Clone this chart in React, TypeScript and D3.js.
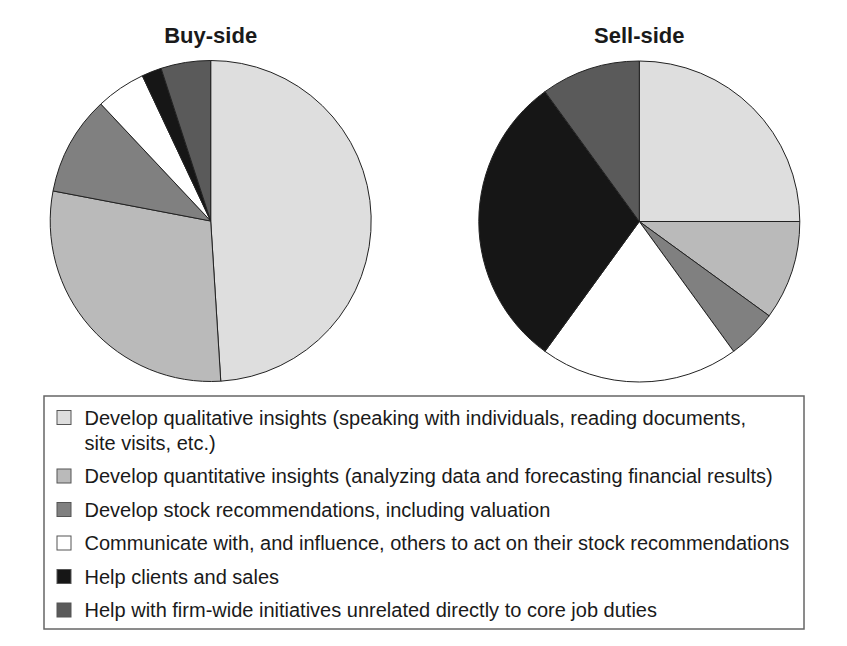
import React from "react";
import * as d3 from "d3";

const categories: string[][] = [
  ["Develop qualitative insights (speaking with individuals, reading documents,", "site visits, etc.)"],
  ["Develop quantitative insights (analyzing data and forecasting financial results)"],
  ["Develop stock recommendations, including valuation"],
  ["Communicate with, and influence, others to act on their stock recommendations"],
  ["Help clients and sales"],
  ["Help with firm-wide initiatives unrelated directly to core job duties"],
];
const buySide: number[] = [49, 29, 10, 5, 2, 5];
const sellSide: number[] = [25, 10, 5, 20, 30, 10];
const titles: string[] = ["Buy-side", "Sell-side"];
const colors: string[] = ["#dedede", "#bababa", "#808080", "#ffffff", "#161616", "#5a5a5a"];

const W = 847;
const H = 646;
const R = 160.5;
const centers = [
  { x: 210.7, y: 221 },
  { x: 639.3, y: 221.5 },
];
const FONT = "'Liberation Sans', Arial, Helvetica, sans-serif";

function Pie({ values, cx, cy, title }: { values: number[]; cx: number; cy: number; title: string }) {
  const pie = d3.pie<number>().sort(null).value((d) => d);
  const arc = d3.arc<d3.PieArcDatum<number>>().innerRadius(0).outerRadius(R);
  const arcs = pie(values);
  return (
    <g>
      <text x={cx} y={43} textAnchor="middle" fontFamily={FONT} fontWeight="bold" fontSize={22} fill="#1a1a1a">
        {title}
      </text>
      <g transform={`translate(${cx},${cy})`}>
        {arcs.map((a, i) => (
          <path key={i} d={arc(a) || ""} fill={colors[i]} stroke="#222" strokeWidth={1} strokeLinejoin="round" />
        ))}
      </g>
    </g>
  );
}

export default function App() {
  const boxX = 44;
  const boxY = 396;
  const boxW = 760;
  const boxH = 233;
  const lineH = 25;
  const rowGap = 33.5;
  let y = 417.5;
  const rows = categories.map((lines, i) => {
    const row = { lines, y, color: colors[i] };
    y += (lines.length - 1) * lineH + rowGap;
    return row;
  });
  return (
    <div style={{ position: "absolute", left: 0, top: 0 }}>
      <svg width={W} height={H} style={{ display: "block", background: "#fff" }}>
        {[buySide, sellSide].map((vals, i) => (
          <Pie key={i} values={vals} cx={centers[i].x} cy={centers[i].y} title={titles[i]} />
        ))}
        <rect x={boxX} y={boxY} width={boxW} height={boxH} fill="none" stroke="#666" strokeWidth={1.5} />
        {rows.map((r, i) => (
          <g key={i}>
            <rect x={57} y={r.y - 7} width={14} height={14} fill={r.color} stroke="#555" strokeWidth={1} />
            {r.lines.map((ln, j) => (
              <text
                key={j}
                x={84.5}
                y={r.y + 7 + j * lineH}
                fontFamily={FONT}
                fontSize={20}
                fill="#1a1a1a"
              >
                {ln}
              </text>
            ))}
          </g>
        ))}
      </svg>
    </div>
  );
}
